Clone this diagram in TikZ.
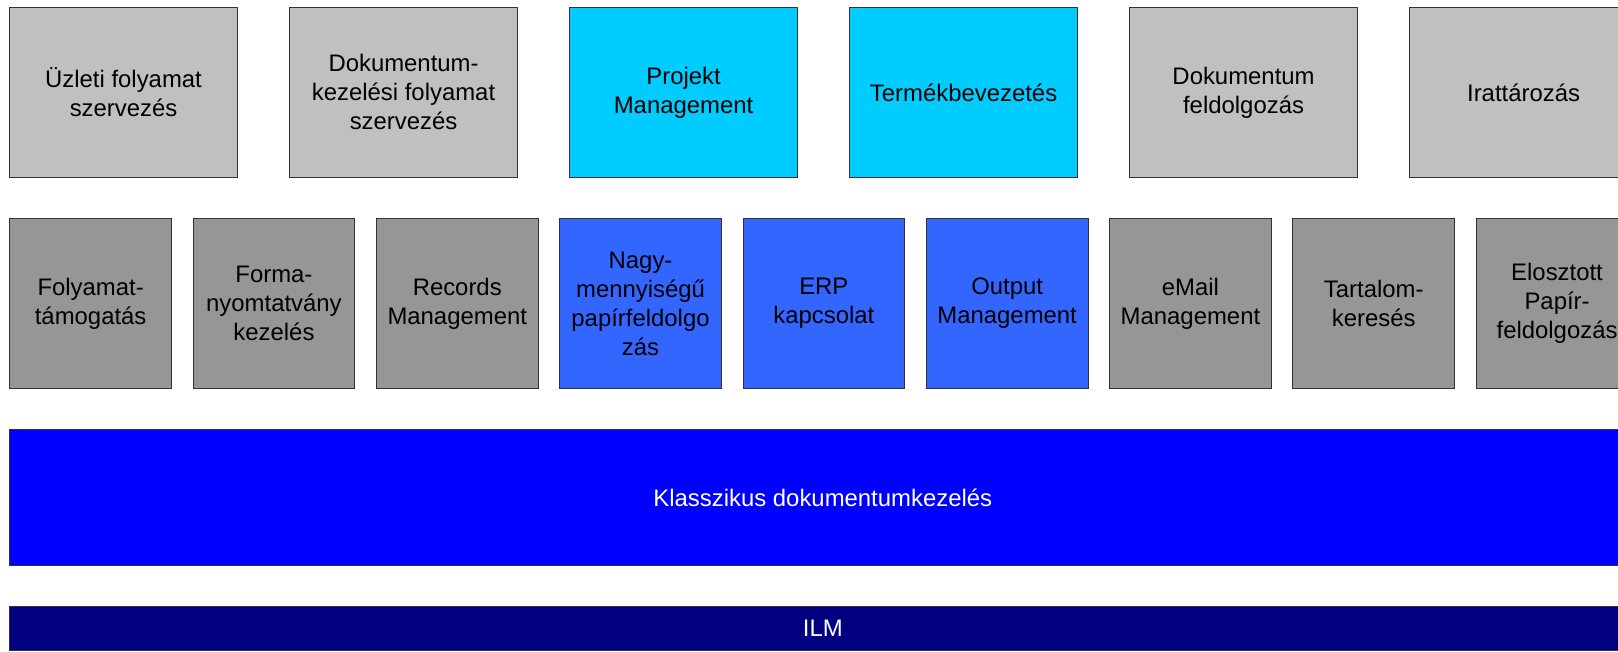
\documentclass[tikz,border=0pt]{standalone}
\usepackage{fontspec}
\setmainfont{Liberation Sans}
\definecolor{topgray}{HTML}{C0C0C0}
\definecolor{midgray}{HTML}{969696}
\definecolor{cyanbox}{HTML}{00CCFF}
\definecolor{bluebox}{HTML}{3366FF}
\definecolor{barblue}{HTML}{0000FF}
\definecolor{navybar}{HTML}{000080}
\definecolor{edge}{HTML}{333333}
\begin{document}
\begin{tikzpicture}[x=1pt,y=-1pt,
  base/.style={draw=edge, line width=1pt, anchor=north west, align=center,
    inner sep=0pt, font=\fontsize{23.9}{29}\selectfont},
  toprow/.style={base, minimum width=227.5pt, minimum height=169.7pt},
  midrow/.style={base, minimum width=161.7pt, minimum height=170.6pt},
  graytop/.style={toprow, fill=topgray},
  cyantop/.style={toprow, fill=cyanbox},
  graymid/.style={midrow, fill=midgray},
  bluemid/.style={midrow, fill=bluebox},
  barstyle/.style={base, minimum width=1626pt, text=white}
]
\useasboundingbox (0,0) rectangle (1618,652);
\clip (0,0) rectangle (1618,652);
% top row
\node[graytop] (t1) at (9.3,7) {Üzleti folyamat\\szervezés};
\node[graytop] (t2) at (289.3,7) {Dokumentum-\\kezelési folyamat\\szervezés};
\node[cyantop] (t3) at (569.3,7) {Projekt\\Management};
\node[cyantop] (t4) at (849.3,7) {Termékbevezetés};
\node[graytop] (t5) at (1129.3,7) {Dokumentum\\feldolgozás};
\node[graytop] (t6) at (1409.3,7) {Irattározás};
% middle row
\node[graymid] (m1) at (9.3,217.7) {Folyamat-\\támogatás};
\node[graymid] (m2) at (192.6,217.7) {Forma-\\nyomtatvány\\kezelés};
\node[graymid] (m3) at (375.9,217.7) {Records\\Management};
\node[bluemid] (m4) at (559.2,217.7) {Nagy-\\mennyiségű\\papírfeldolgo\\zás};
\node[bluemid] (m5) at (742.5,217.7) {ERP\\kapcsolat};
\node[bluemid] (m6) at (925.8,217.7) {Output\\Management};
\node[graymid] (m7) at (1109.1,217.7) {eMail\\Management};
\node[graymid] (m8) at (1292.4,217.7) {Tartalom-\\keresés};
\node[graymid] (m9) at (1475.7,217.7) {Elosztott\\Papír-\\feldolgozás};
% bars
\node[barstyle, fill=barblue, minimum height=136pt] (kd) at (9.3,429) {Klasszikus dokumentumkezelés};
\node[barstyle, fill=navybar, minimum height=44pt] (ilm) at (9.3,606) {ILM};
\end{tikzpicture}
\end{document}
